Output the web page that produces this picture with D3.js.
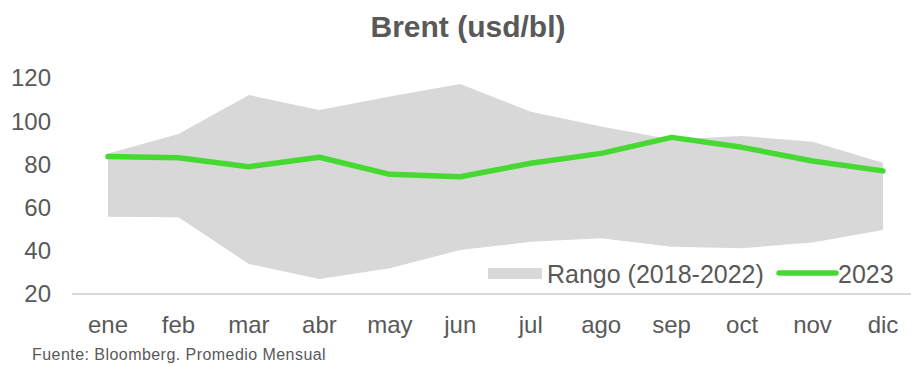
<!DOCTYPE html>
<html>
<head>
<meta charset="utf-8">
<script src="https://cdn.jsdelivr.net/npm/d3@7"></script>
<style>
  html, body { margin: 0; padding: 0; background: #fff; }
  svg { display: block; }
  text { font-family: "Liberation Sans", Arial, sans-serif; fill: #595959; }
</style>
</head>
<body>
<svg id="chart" width="911" height="365"></svg>
<script>
// Monthly Brent averages (usd/bl)
const months = ["ene", "feb", "mar", "abr", "may", "jun", "jul", "ago", "sep", "oct", "nov", "dic"];
const rangeLow  = [55.8, 55.5, 33.9, 26.9, 31.9, 40.4, 44.2, 45.8, 41.9, 41.2, 43.8, 49.6];
const rangeHigh = [85.1, 94.1, 112.1, 105.2, 111.4, 117.2, 104.4, 97.5, 91.5, 93.1, 90.5, 80.8];
const values2023 = [83.6, 83.1, 78.9, 83.3, 75.4, 74.3, 80.5, 85.1, 92.5, 87.9, 81.6, 77.0];
const yTicks = [20, 40, 60, 80, 100, 120];

const title = "Brent (usd/bl)";
const legendRange = "Rango (2018-2022)";
const legendLine = "2023";
const source = "Fuente: Bloomberg. Promedio Mensual";

const svg = d3.select("#chart");

const x = d3.scaleBand().domain(months).range([72.8, 918.2]);
const xc = m => x(m) + x.bandwidth() / 2;
const y = d3.scaleLinear().domain([20, 120]).range([294, 78]);

const rows = months.map((m, i) => ({ m, lo: rangeLow[i], hi: rangeHigh[i], v: values2023[i] }));

// Title
svg.append("text")
  .attr("x", 468).attr("y", 37)
  .attr("text-anchor", "middle")
  .style("font-size", "30px").style("font-weight", "bold")
  .text(title);

// Y tick labels
svg.append("g").selectAll("text").data(yTicks).join("text")
  .attr("x", 51).attr("y", d => y(d))
  .attr("dy", "0.35em")
  .attr("text-anchor", "end")
  .style("font-size", "24px")
  .text(d => d);

// Historical range band
svg.append("path")
  .datum(rows)
  .attr("fill", "#d8d8d8")
  .attr("d", d3.area().x(d => xc(d.m)).y0(d => y(d.lo)).y1(d => y(d.hi)));

// Baseline
svg.append("line")
  .attr("x1", 72).attr("x2", 911)
  .attr("y1", y(20)).attr("y2", y(20))
  .attr("stroke", "#d9d9d9").attr("stroke-width", 2);

// 2023 line
svg.append("path")
  .datum(rows)
  .attr("fill", "none")
  .attr("stroke", "#45d932")
  .attr("stroke-width", 5.5)
  .attr("stroke-linecap", "round")
  .attr("stroke-linejoin", "round")
  .attr("d", d3.line().x(d => xc(d.m)).y(d => y(d.v)));

// Month labels
svg.append("g").selectAll("text").data(months).join("text")
  .attr("x", d => xc(d)).attr("y", 333)
  .attr("text-anchor", "middle")
  .style("font-size", "24px")
  .text(d => d);

// Legend
const lg = svg.append("g");
lg.append("rect").attr("x", 488).attr("y", 268).attr("width", 54).attr("height", 11).attr("fill", "#d8d8d8");
lg.append("text").attr("x", 547).attr("y", 283).style("font-size", "25px").text(legendRange);
lg.append("line").attr("x1", 779).attr("x2", 836).attr("y1", 273).attr("y2", 273)
  .attr("stroke", "#45d932").attr("stroke-width", 5.5).attr("stroke-linecap", "round");
lg.append("text").attr("x", 838).attr("y", 283).style("font-size", "25px").text(legendLine);

// Source note
svg.append("text")
  .attr("x", 32).attr("y", 360)
  .style("font-size", "16px").style("letter-spacing", "0.45px")
  .text(source);
</script>
</body>
</html>
